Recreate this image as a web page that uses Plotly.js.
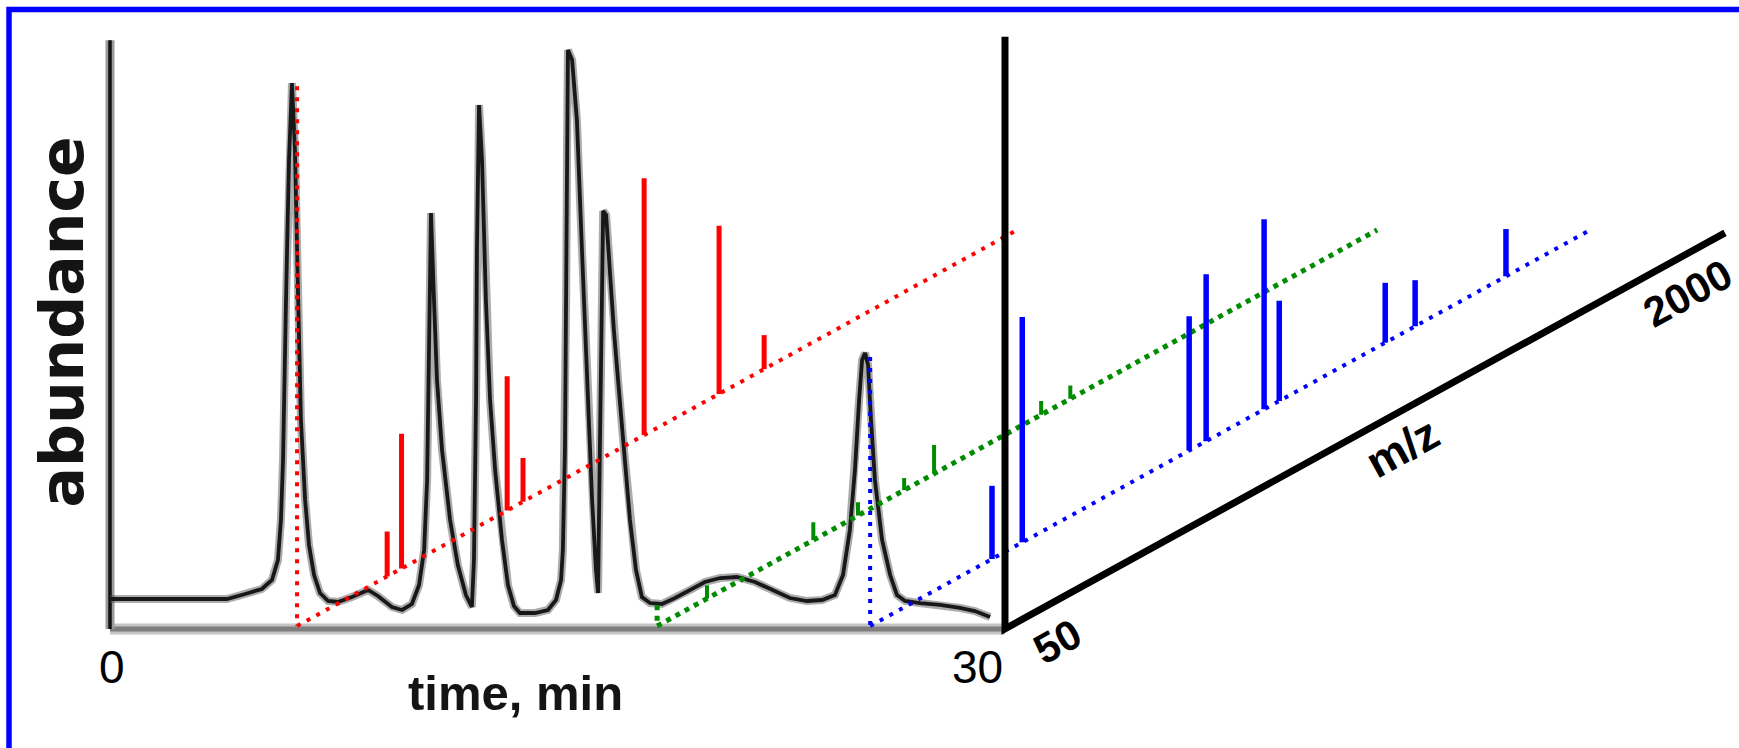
<!DOCTYPE html>
<html><head><meta charset="utf-8">
<script src="https://cdn.plot.ly/plotly-3.0.1.min.js"></script>
<style>html,body{margin:0;padding:0;background:#fff}</style>
</head><body>
<div id="chart" style="width:1739px;height:748px"></div>
<script>
// ---------- DATA ----------
// Chromatogram: retention time (min) and relative abundance (%)
const chromTime = [0,3.92,4.53,5.09,5.43,5.63,5.73,5.80,5.90,6.00,6.10,6.20,6.30,6.40,6.54,6.67,6.84,7.04,7.31,7.64,
  8.11,8.65,8.98,9.45,9.79,10.12,10.36,10.53,10.63,10.69,10.76,10.86,10.96,11.13,11.40,11.66,11.93,12.13,
  12.20,12.27,12.30,12.37,12.47,12.60,12.74,12.91,13.14,13.34,13.54,13.74,14.25,14.68,14.95,15.12,
  15.18,15.25,15.29,15.32,15.35,15.49,15.65,15.82,15.99,16.16,16.29,16.36,16.42,16.46,16.53,16.63,16.73,
  16.89,17.03,17.23,17.43,17.63,17.83,18.10,18.50,18.94,19.44,19.94,20.45,21.02,21.62,22.19,22.79,23.36,
  23.87,24.30,24.57,24.80,24.97,25.11,25.21,25.31,25.41,25.51,25.64,25.88,26.15,26.38,26.65,27.15,27.82,
  28.49,28.99,29.50];
const chromAbund = [4.69,4.69,5.56,6.42,7.99,11.46,18.40,28.82,56.60,80.90,94.27,82.64,58.33,35.76,21.88,14.06,8.85,5.73,4.34,4.17,
  5.03,6.25,5.21,3.30,2.78,3.82,7.12,13.19,25.35,42.71,71.70,56.60,42.71,30.56,18.40,10.59,5.38,3.30,
  11.46,39.24,65.28,90.45,80.90,56.60,39.24,27.08,14.93,7.12,3.47,2.26,2.26,2.78,4.51,7.99,
  13.19,30.56,56.60,82.64,100,98.26,87.85,65.28,42.71,21.88,9.72,5.73,30.56,51.39,72.05,71.35,63.54,
  51.39,42.71,30.56,18.40,9.72,5.03,3.99,3.82,4.86,6.25,7.64,8.33,8.51,7.64,6.25,4.86,4.34,
  4.51,5.38,8.85,16.67,27.08,39.24,46.18,47.40,45.31,35.76,25.35,14.93,8.85,5.38,4.34,3.99,3.65,
  3.13,2.60,1.56];
const timeTicks = [0, 30];
const timeTitle = 'time, min';
const abundTitle = 'abundance';

// Mass spectra taken at three retention times
const specTime      = [6.27, 18.34, 25.48];   // min
const specPrecursor = [93.7, 3.6, 46.7];      // chromatogram abundance at that time
const redMz    = [294, 333, 619, 662, 990, 1193, 1315];
const redInt   = [7.8, 23.4, 23.3, 7.6, 44.6, 29.2, 5.9];
const greenMz  = [185, 473, 594, 719, 800, 1090, 1169];
const greenInt = [2.3, 3.1, 2.3, 2.1, 5.0, 2.4, 2.3];
const blueMz   = [380, 462, 914, 960, 1117, 1158, 1445, 1526, 1772];
const blueInt  = [12.7, 39.1, 23.3, 29.0, 33.0, 17.4, 10.4, 8.0, 8.2];
const mzRange  = [50, 2000];
const mzTicks  = [50, 2000];
const mzTitle  = 'm/z';
const intensityAxisTop = 102.3;

// ---------- LAYOUT GEOMETRY (pixels) ----------
const W = 1739, H = 748;
const X0 = 110, PX_PER_MIN = 29.833;   // t = 0 position, scale
const Y0 = 626, PX_PER_UNIT = 5.76;    // abundance 0 position, scale
const MZ_DX = 720, MZ_DY = 396;        // screen extent of the oblique m/z axis
const DT = MZ_DX / PX_PER_MIN, DA = MZ_DY / PX_PER_UNIT;
const ANG = Math.atan2(MZ_DY, MZ_DX) * 180 / Math.PI;
const ux = Math.cos(ANG*Math.PI/180), uy = Math.sin(ANG*Math.PI/180); // along axis (screen, y up)

function proj(t, a, mz) {
  const f = (mz - mzRange[0]) / (mzRange[1] - mzRange[0]);
  return [t + f * DT, a + f * DA];
}

const colors = ['#ff0000', '#008c00', '#0000ff'];
const specMz = [redMz, greenMz, blueMz];
const specInt = [redInt, greenInt, blueInt];
const dotDash = ['4px,7px', '5px,5.5px', '4px,7px'];
const dotWidth = [4, 5, 4];
const barWidth = [5, 4, 5.5];

const traces = [];
// chromatogram (halo + core)
traces.push({x: chromTime, y: chromAbund, mode: 'lines', line: {color: 'rgba(70,70,70,0.45)', width: 8}, hoverinfo: 'skip'});
traces.push({x: chromTime, y: chromAbund, mode: 'lines', line: {color: '#181818', width: 3.8}, hoverinfo: 'skip'});

for (let i = 0; i < 3; i++) {
  const t = specTime[i];
  traces.push({x: [t, t], y: [specPrecursor[i], 0], mode: 'lines',
    line: {color: colors[i], width: dotWidth[i], dash: dotDash[i]}, hoverinfo: 'skip'});
  const p0 = proj(t, 0, mzRange[0]), p1 = proj(t, 0, mzRange[1]);
  traces.push({x: [p0[0], p1[0]], y: [p0[1], p1[1]], mode: 'lines',
    line: {color: colors[i], width: dotWidth[i], dash: dotDash[i]}, hoverinfo: 'skip'});
  const bx = [], by = [];
  specMz[i].forEach((mz, k) => {
    const b = proj(t, 0, mz);
    bx.push(b[0], b[0], null);
    by.push(b[1], b[1] + specInt[i][k], null);
  });
  traces.push({x: bx, y: by, mode: 'lines', line: {color: colors[i], width: barWidth[i]}, hoverinfo: 'skip'});
}

// 3-D frame: intensity axis + m/z axis
const mzEnd = proj(timeTicks[1], -0.5, mzRange[1]);
traces.push({x: [timeTicks[1], timeTicks[1], mzEnd[0]], y: [intensityAxisTop, -0.5, mzEnd[1]],
  mode: 'lines', line: {color: '#000', width: 7}, hoverinfo: 'skip'});

const xr = [-X0 / PX_PER_MIN, (W - X0) / PX_PER_MIN];
const yr = [-(H - Y0) / PX_PER_UNIT, Y0 / PX_PER_UNIT];

const shapes = [
  {type: 'line', layer: 'below', x0: 0, x1: timeTicks[1], y0: -0.5, y1: -0.5, line: {color: '#c4c4c4', width: 11}},
  {type: 'line', layer: 'below', x0: 0, x1: timeTicks[1], y0: -0.5, y1: -0.5, line: {color: '#7e7e7e', width: 5}},
  {type: 'line', layer: 'below', x0: 0, x1: 0, y0: -0.5, y1: 101.7, line: {color: '#9a9a9a', width: 9}},
  {type: 'line', layer: 'below', x0: 0, x1: 0, y0: -0.5, y1: 101.7, line: {color: '#111', width: 3.5}},
  {type: 'rect', xref: 'paper', yref: 'paper', x0: 9/W, x1: 1.02, y0: -0.05, y1: 1 - 9.5/H,
   line: {color: '#0000ff', width: 5.5}, fillcolor: 'rgba(0,0,0,0)'}
];

const sans = 'Liberation Sans, Arial, sans-serif';
const annotations = [];
timeTicks.forEach((v, k) => annotations.push({x: v, y: 0, xref: 'x', yref: 'y', text: String(v), showarrow: false,
  xanchor: k === 0 ? 'center' : 'right', yanchor: 'middle', xshift: k === 0 ? 2 : 0, yshift: -41,
  font: {family: sans, size: 46, color: '#000'}}));
annotations.push({x: 13.6, y: 0, xref: 'x', yref: 'y', text: '<b>' + timeTitle + '</b>', showarrow: false,
  xanchor: 'center', yanchor: 'middle', yshift: -67,
  font: {family: sans, size: 49, color: '#141414'}});
annotations.push({x: -1.62, y: 52.8, xref: 'x', yref: 'y', text: '<b>' + abundTitle + '</b>', showarrow: false,
  textangle: -90, xanchor: 'center', yanchor: 'middle',
  font: {family: 'DejaVu Sans, ' + sans, size: 60, color: '#141414'}});

function mzLabel(text, mz, s, n, size) {
  const p = proj(timeTicks[1], -0.5, mz);
  const dx = s * ux + n * uy, dy = s * uy - n * ux;
  annotations.push({x: p[0], y: p[1], xref: 'x', yref: 'y', text: '<b>' + text + '</b>', showarrow: false,
    textangle: -ANG, xanchor: 'center', yanchor: 'middle', xshift: dx, yshift: dy,
    font: {family: sans, size: size, color: '#000'}});
}
mzLabel(String(mzTicks[0]), mzTicks[0], 40, 36, 42);
mzLabel(String(mzTicks[1]), mzTicks[1], -62, 35, 42);
mzLabel(mzTitle, mzRange[0] + 0.53 * (mzRange[1] - mzRange[0]), 0, 33, 45);

const layout = {
  width: W, height: H, margin: {l: 0, r: 0, t: 0, b: 0},
  paper_bgcolor: '#fff', plot_bgcolor: '#fff', showlegend: false,
  xaxis: {range: xr, visible: false, fixedrange: true},
  yaxis: {range: yr, visible: false, fixedrange: true},
  shapes: shapes, annotations: annotations
};
Plotly.newPlot('chart', traces, layout, {staticPlot: true});
</script>
</body></html>
